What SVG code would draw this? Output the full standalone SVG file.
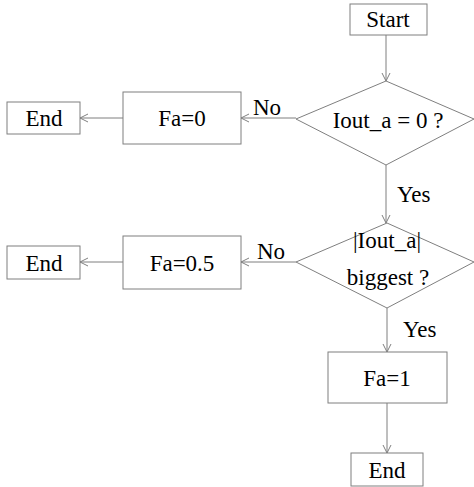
<svg xmlns="http://www.w3.org/2000/svg" width="474" height="487" viewBox="0 0 474 487">
<style>
.b{fill:#fff;stroke:#7f7f7f;stroke-width:1}
.c{fill:none;stroke:#7f7f7f;stroke-width:1;marker-end:url(#ah)}
text{font-family:"Times New Roman","Liberation Serif","Nimbus Roman","DejaVu Serif",serif;font-size:23px;fill:#000;text-anchor:middle}
.l{text-anchor:start}
</style>
<defs>
<marker id="ah" markerWidth="10" markerHeight="10" refX="9" refY="5" orient="auto" markerUnits="userSpaceOnUse">
<path d="M1,1 L9,5 L1,9" fill="none" stroke="#7f7f7f" stroke-width="1"/>
</marker>
</defs>
<rect width="474" height="487" fill="#fff"/>
<g id="connectors">
<line class="c" x1="386" y1="35" x2="386" y2="81"/>
<line class="c" x1="386" y1="165" x2="386" y2="223"/>
<line class="c" x1="296" y1="118" x2="241" y2="118"/>
<line class="c" x1="123" y1="118" x2="80" y2="118"/>
<line class="c" x1="296" y1="262" x2="241" y2="262"/>
<line class="c" x1="123" y1="262" x2="80" y2="262"/>
<line class="c" x1="387" y1="308" x2="387" y2="352"/>
<line class="c" x1="387" y1="403" x2="387" y2="453"/>
<text class="l" x="253" y="115">No</text>
<text class="l" x="397" y="202">Yes</text>
<text class="l" x="257" y="259">No</text>
<text class="l" x="403" y="337">Yes</text>
</g>
<g id="start">
<rect class="b" x="350" y="4" width="77" height="31"/>
<text x="388" y="27">Start</text>
</g>
<g id="dec1">
<polygon class="b" points="386,81 474,119 386,165 296,119"/>
<text x="388" y="128">Iout_a = 0 ?</text>
</g>
<g id="fa0">
<rect class="b" x="123" y="92" width="118" height="52"/>
<text x="182" y="126">Fa=0</text>
</g>
<g id="end1">
<rect class="b" x="7" y="102" width="73" height="32"/>
<text x="44" y="126">End</text>
</g>
<g id="dec2">
<polygon class="b" points="387,223 474,262 387,308 296,262"/>
<text x="387" y="248">|Iout_a|</text>
<text x="388" y="285">biggest ?</text>
</g>
<g id="fa05">
<rect class="b" x="123" y="236" width="118" height="53"/>
<text x="182" y="271">Fa=0.5</text>
</g>
<g id="end2">
<rect class="b" x="7" y="246" width="73" height="33"/>
<text x="44" y="271">End</text>
</g>
<g id="fa1">
<rect class="b" x="328" y="352" width="119" height="51"/>
<text x="387" y="386">Fa=1</text>
</g>
<g id="end3">
<rect class="b" x="351" y="453" width="72" height="33"/>
<text x="387" y="478">End</text>
</g>
</svg>
